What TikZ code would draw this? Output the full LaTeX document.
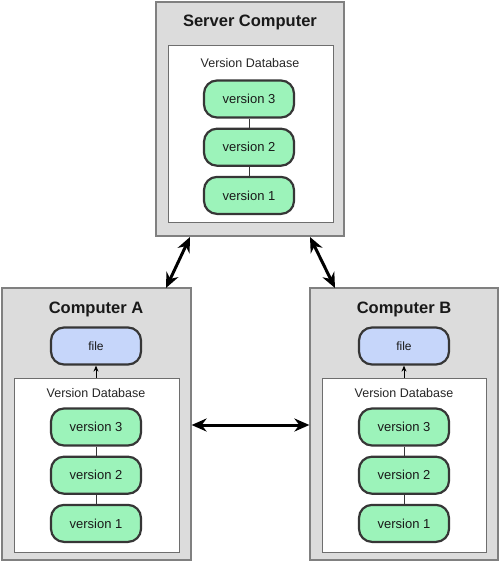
\documentclass[tikz,border=0pt]{standalone}
\usepackage{fontspec}
\setmainfont{Liberation Sans}
\usepackage{xcolor}
\usetikzlibrary{arrows.meta}
\usetikzlibrary{positioning}
\definecolor{boxgray}{HTML}{DCDCDC}
\definecolor{boxedge}{HTML}{808080}
\definecolor{dbedge}{HTML}{6E6E6E}
\definecolor{pilledge}{HTML}{363636}
\definecolor{versiongreen}{HTML}{9CF3BA}
\definecolor{fileblue}{HTML}{C6D6FA}
\tikzset{
    machine/.style = {draw=boxedge, fill=boxgray, line width=1.2pt, inner sep=0pt},
    database/.style = {draw=dbedge, fill=white, line width=1pt, inner sep=0pt},
    title/.style = {font=\fontsize{16.5}{18}\selectfont\bfseries, text=black!90},
    dblabel/.style = {font=\fontsize{12.5}{14}\selectfont, text=black!85},
    pill/.style = {rectangle, rounded corners=13pt, draw=pilledge, line width=2.2pt,
        minimum width=90pt, minimum height=37pt, inner sep=0pt, text=black!90,
        font=\fontsize{13}{15}\selectfont},
    version/.style = {pill, fill=versiongreen},
    file/.style = {pill, fill=fileblue, font=\fontsize{12}{14}\selectfont},
    link/.style = {draw=pilledge, line width=0.9pt},
    sync/.style = {line width=3pt, {Stealth[length=15pt,width=13pt]}-{Stealth[length=15pt,width=13pt]}},
    checkout/.style = {line width=1pt, -{Stealth[length=6pt,width=5pt]}}
}
\begin{document}
\begin{tikzpicture}[x=1pt, y=-1pt, node distance=9pt]
    \useasboundingbox (0,0) rectangle (500,563);

    % server
    \node [machine, minimum width=188pt, minimum height=234pt] (server) at (250,119) {};
    \node [title] (server title) at (250,22) {Server Computer};
    \node [database, minimum width=165pt, minimum height=177pt] (server db) at (250.5,133.5) {};
    \node [dblabel] (server dblabel) at (250,63) {Version Database};
    \node [version] (server v3) at (249,99) {version 3};
    \node [version, below=of server v3] (server v2) {version 2};
    \node [version, below=of server v2] (server v1) {version 1};
    \draw [link] (server v3) -- (server v2);
    \draw [link] (server v2) -- (server v1);

    % computer A
    \node [machine, minimum width=189pt, minimum height=272pt] (compA) at (96.5,424) {};
    \node [title] (compA title) at (96,309) {Computer A};
    \node [file] (compA file) at (96,346) {file};
    \node [database, minimum width=165pt, minimum height=174pt] (compA db) at (96.5,465) {};
    \node [dblabel] (compA dblabel) at (96,393) {Version Database};
    \node [version] (compA v3) at (96,427) {version 3};
    \node [version, below=of compA v3] (compA v2) {version 2};
    \node [version, below=of compA v2] (compA v1) {version 1};
    \draw [link] (compA v3) -- (compA v2);
    \draw [link] (compA v2) -- (compA v1);
    \draw [checkout] (compA db.north -| compA file) -- (compA file);

    % computer B
    \node [machine, minimum width=188pt, minimum height=272pt] (compB) at (404,424) {};
    \node [title] (compB title) at (404,309) {Computer B};
    \node [file] (compB file) at (404,346) {file};
    \node [database, minimum width=164pt, minimum height=174pt] (compB db) at (404,465) {};
    \node [dblabel] (compB dblabel) at (404,393) {Version Database};
    \node [version] (compB v3) at (404,427) {version 3};
    \node [version, below=of compB v3] (compB v2) {version 2};
    \node [version, below=of compB v2] (compB v1) {version 1};
    \draw [link] (compB v3) -- (compB v2);
    \draw [link] (compB v2) -- (compB v1);
    \draw [checkout] (compB db.north -| compB file) -- (compB file);

    % sync arrows
    \coordinate (server left) at (190,237);
    \coordinate (server right) at (310,237);
    \coordinate (compA top) at (166,288);
    \coordinate (compB top) at (335,288);
    \draw [sync] (server left) -- (compA top);
    \draw [sync] (server right) -- (compB top);
    \draw [sync] (compA.east |- 0,425) -- (compB.west |- 0,425);
\end{tikzpicture}
\end{document}
